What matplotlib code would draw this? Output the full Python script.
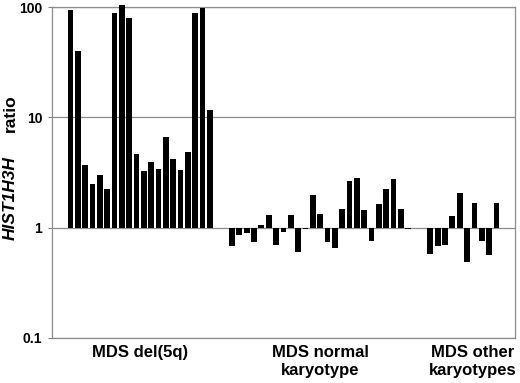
import numpy as np
import matplotlib
matplotlib.use("Agg")
import matplotlib.pyplot as plt

# HIST1H3H ratio per sample
del5q = [94.6, 40.0, 3.7, 2.5, 3.0, 2.25, 88.0, 103.5, 80.0, 4.7,
         3.25, 3.95, 3.4, 6.6, 4.2, 3.35, 4.85, 89.0, 98.5, 11.6]
normal = [0.68, 0.85, 0.89, 0.74, 1.06, 1.31, 0.69, 0.91, 1.31, 0.60,
          0.98, 1.98, 1.33, 0.74, 0.655, 1.48, 2.66, 2.82, 1.44, 0.76,
          1.63, 2.24, 2.76, 1.49, 0.97]
other = [0.58, 0.68, 0.70, 1.27, 2.07, 0.485, 1.68, 0.75, 0.565, 1.67]
group_labels = ["MDS del(5q)", "MDS normal\nkaryotype", "MDS other\nkaryotypes"]
y_ticks = [0.1, 1, 10, 100]
y_ticklabels = ["0.1", "1", "10", "100"]

plt.rcParams["font.family"] = ["Liberation Sans", "DejaVu Sans"]

# two empty category slots between groups
groups = [del5q, normal, other]
xs, vals, centers = [], [], []
pos = 0
for g in groups:
    idx = np.arange(pos, pos + len(g))
    xs.extend(idx)
    vals.extend(g)
    centers.append(idx.mean())
    pos += len(g) + 2
xs = np.array(xs)
vals = np.array(vals)

fig = plt.figure(figsize=(5.2, 3.83), dpi=100)
ax = fig.add_axes([0.1, 0.1175, 0.89, 0.8642])

ax.set_yscale("log")
ax.bar(xs, vals - 1, bottom=1, width=0.78, color="black", zorder=3, clip_on=False)

ax.set_ylim(0.1, 100)
ax.set_xlim(-2.5, xs.max() + 2.5)
ax.set_yticks(y_ticks)
ax.set_yticklabels(y_ticklabels, fontsize=10, fontweight="bold")
ax.yaxis.set_minor_locator(matplotlib.ticker.NullLocator())
ax.tick_params(axis="y", length=3, color="#808080", pad=4)
ax.set_xticks([])
ax.grid(axis="y", color="#8c8c8c", linewidth=0.9, zorder=0)
for s in ax.spines.values():
    s.set_color("#8c8c8c")
    s.set_linewidth(0.9)

label_x = [centers[0], centers[1], centers[2] + 1.2]
for x, lab in zip(label_x, group_labels):
    ax.text(x, -0.02, lab, transform=ax.get_xaxis_transform(), ha="center", va="top",
            fontsize=12, fontweight="bold", linespacing=1.25)

# y label: italic gene name + plain "ratio"
fig.text(0.02, 0.484, "HIST1H3H", rotation=90, ha="center", va="center",
         fontsize=12.5, fontweight="bold", style="italic")
fig.text(0.02, 0.704, "ratio", rotation=90, ha="center", va="center",
         fontsize=12.5, fontweight="bold")

fig.savefig("out.png", dpi=100)
